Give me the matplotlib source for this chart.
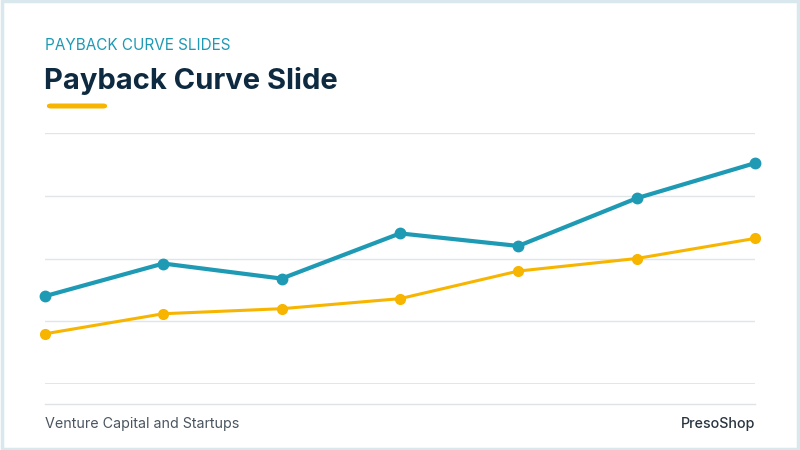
import matplotlib.pyplot as plt
from matplotlib.patches import Rectangle, FancyBboxPatch

# data
periods = [0, 1, 2, 3, 4, 5, 6]
series_a = [35, 48, 42, 60, 55, 74, 88]
series_b = [20, 28, 30, 34, 45, 50, 58]
grid_levels = [0, 25, 50, 75, 100]

teal = "#1e9ab4"
gold = "#f7b500"
navy = "#0e2a40"

plt.rcParams['font.family'] = ['Inter', 'DejaVu Sans']

fig = plt.figure(figsize=(8, 4.5), dpi=100)
fig.patch.set_facecolor("white")

# slide border
fig.patches.append(Rectangle((0.002, 0.003), 0.996, 0.994, transform=fig.transFigure,
                             fill=False, edgecolor="#d9e8ec", linewidth=2.5))

fig.text(45/800, 1-46/450, "PAYBACK CURVE SLIDES", color="#1e9ab4", fontsize=11,
         va="center", ha="left")
fig.text(44/800, 1-81/450, "Payback Curve Slide", color=navy, fontsize=21,
         fontweight="bold", va="center", ha="left")
fig.patches.append(FancyBboxPatch((46/800, 1-108.5/450), 62/800, 5/450,
                                  boxstyle="round,pad=0,rounding_size=0.006",
                                  transform=fig.transFigure, facecolor=gold,
                                  edgecolor="none", mutation_aspect=800/450))

ax = fig.add_axes([45/800, 1-384/450, 710/800, 251/450])
ax.set_xlim(0, 6)
ax.set_ylim(0, 100)
for g in grid_levels[1:]:
    ax.axhline(g, color="#dfe5e8", linewidth=1, zorder=0)
ax.axhline(0, color="#d3e9e9", linewidth=2, zorder=0)

ax.plot(periods, series_b, color=gold, linewidth=2.2, marker="o", markersize=7,
        clip_on=False, zorder=3)
ax.plot(periods, series_a, color=teal, linewidth=3, marker="o", markersize=7.5,
        clip_on=False, zorder=4)

ax.set_xticks([])
ax.set_yticks([])
for s in ax.spines.values():
    s.set_visible(False)
ax.patch.set_alpha(0)

# footer separator
fig.add_artist(plt.Line2D([45/800, 755/800], [1-404/450, 1-404/450],
                          transform=fig.transFigure, color="#dde3e6", linewidth=1))
fig.text(45/800, 1-424/450, "Venture Capital and Startups", color="#4a5560",
         fontsize=10.3, va="center", ha="left")
fig.text(755/800, 1-424/450, "PresoShop", color="#2a3540",
         fontsize=10.3, fontweight="medium", va="center", ha="right")

fig.savefig("out.png", dpi=100)
